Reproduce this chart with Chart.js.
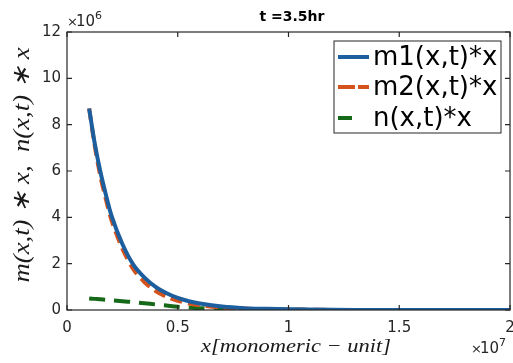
<!DOCTYPE html>
<html>
<head>
<meta charset="utf-8">
<script src="https://cdn.jsdelivr.net/npm/chart.js@4/dist/chart.umd.min.js"></script>
<style>
    html, body { margin: 0; padding: 0; background: #ffffff; }
    #wrap { width: 513px; height: 363px; }
</style>
</head>
<body>
<div id="wrap"><canvas id="chart" width="513" height="363"></canvas></div>
<script>
// x in units of 1e6, y in units of 1e6
const xGrid = [1, 1.25, 1.5, 1.75, 2, 2.5, 3, 3.5, 4, 4.5, 5, 5.5, 6, 7, 8, 9, 10, 12, 14, 16, 18, 20];
const m1Values = [8.7, 7.2, 6.0, 5.0, 4.1, 2.85, 1.95, 1.4, 1.0, 0.72, 0.52, 0.38, 0.28, 0.15, 0.08, 0.05, 0.03, 0.01, 0, 0, 0, 0];
const m2Values = [8.7, 7.1, 5.8, 4.8, 3.9, 2.65, 1.75, 1.2, 0.82, 0.57, 0.4, 0.28, 0.2, 0.1, 0.06, 0.03, 0.02, 0.005, 0, 0, 0, 0];
const nValues = [0.5, 0.48, 0.46, 0.44, 0.42, 0.38, 0.34, 0.29, 0.24, 0.19, 0.14, 0.11, 0.08, 0.05, 0.03, 0.02, 0.01, 0, 0, 0, 0, 0];

const seriesLabels = ['m1(x,t)*x', 'm2(x,t)*x', 'n(x,t)*x'];
const seriesColors = ['#1d5f9e', '#d4521c', '#17691a'];
const seriesDash = [[], [12, 6], [16, 9]];

const titleText = 't =3.5hr';
const xLabelText = 'x[monomeric \u2212 unit]';
const yLabelText = 'm(x,t) \u2217 x,  n(x,t) \u2217 x';

const AREA = { left: 67, right: 510, top: 32, bottom: 310 };

function toPoints(values) {
    return xGrid.map((x, i) => ({ x: x, y: values[i] }));
}

// draw text stretched horizontally to a target width
function fitText(ctx, text, cx, cy, targetWidth) {
    const w = ctx.measureText(text).width;
    ctx.save();
    ctx.translate(cx, cy);
    ctx.scale(targetWidth / w, 1);
    ctx.fillText(text, 0, 0);
    ctx.restore();
}

const decorations = {
    id: 'decorations',
    afterDraw(chart) {
        const ctx = chart.ctx;
        const a = chart.chartArea;
        const xs = chart.scales.x;
        const ys = chart.scales.y;
        ctx.save();

        // box
        ctx.strokeStyle = '#262626';
        ctx.lineWidth = 1.2;
        ctx.strokeRect(a.left, a.top, a.right - a.left, a.bottom - a.top);

        // inward ticks on all sides
        ctx.beginPath();
        xs.ticks.forEach(t => {
            const px = xs.getPixelForValue(t.value);
            ctx.moveTo(px, a.bottom); ctx.lineTo(px, a.bottom - 5);
            ctx.moveTo(px, a.top); ctx.lineTo(px, a.top + 5);
        });
        ys.ticks.forEach(t => {
            const py = ys.getPixelForValue(t.value);
            ctx.moveTo(a.left, py); ctx.lineTo(a.left + 5, py);
            ctx.moveTo(a.right, py); ctx.lineTo(a.right - 5, py);
        });
        ctx.stroke();

        // title
        ctx.fillStyle = '#000000';
        ctx.font = 'bold 14px "DejaVu Sans"';
        ctx.textAlign = 'center';
        ctx.textBaseline = 'middle';
        ctx.fillText(titleText, 292, 17);

        // exponents
        ctx.fillStyle = '#262626';
        ctx.textAlign = 'left';
        ctx.textBaseline = 'alphabetic';
        ctx.font = '13px "DejaVu Sans"';
        ctx.fillText('\u00d7', 67, 26);
        ctx.font = '15px "DejaVu Sans"';
        ctx.fillText('10', 76, 26);
        ctx.font = '11px "DejaVu Sans"';
        ctx.fillText('6', 95, 19);

        ctx.font = '13px "DejaVu Sans"';
        ctx.fillText('\u00d7', 471, 353);
        ctx.font = '15px "DejaVu Sans"';
        ctx.fillText('10', 480, 353);
        ctx.font = '11px "DejaVu Sans"';
        ctx.fillText('7', 499, 346);

        // axis labels
        ctx.fillStyle = '#1a1a1a';
        ctx.textAlign = 'center';
        ctx.textBaseline = 'middle';
        ctx.font = 'italic 19px "Liberation Serif"';
        fitText(ctx, xLabelText, 296, 347, 190);

        ctx.save();
        ctx.translate(23, 165);
        ctx.rotate(-Math.PI / 2);
        ctx.font = 'italic 24px "Liberation Serif"';
        fitText(ctx, yLabelText, 0, 0, 235);
        ctx.restore();

        // legend
        const lx = 334, ly = 41, lw = 167, lh = 92;
        ctx.fillStyle = '#ffffff';
        ctx.fillRect(lx, ly, lw, lh);
        ctx.strokeStyle = '#262626';
        ctx.lineWidth = 1;
        ctx.strokeRect(lx, ly, lw, lh);
        const rows = [57, 87, 118];
        chart.data.datasets.forEach((ds, i) => {
            ctx.beginPath();
            ctx.strokeStyle = ds.borderColor;
            ctx.lineWidth = 4;
            ctx.setLineDash(i === 1 ? [17, 3] : (i === 2 ? [14, 30] : []));
            ctx.moveTo(338, rows[i]);
            ctx.lineTo(369, rows[i]);
            ctx.stroke();
            ctx.setLineDash([]);
            ctx.fillStyle = '#000000';
            ctx.font = '26px "DejaVu Sans"';
            ctx.textAlign = 'left';
            ctx.textBaseline = 'middle';
            ctx.fillText(ds.label, 373, rows[i] + 1);
        });

        ctx.restore();
    }
};

const ctx = document.getElementById('chart').getContext('2d');

new Chart(ctx, {
    type: 'scatter',
    data: {
        datasets: [m1Values, m2Values, nValues].map((vals, i) => ({
            label: seriesLabels[i],
            data: toPoints(vals),
            showLine: true,
            borderColor: seriesColors[i],
            backgroundColor: seriesColors[i],
            borderWidth: 4,
            borderDash: seriesDash[i],
            pointRadius: 0,
            tension: 0.3,
            fill: false
        }))
    },
    options: {
        responsive: false,
        animation: false,
        devicePixelRatio: 1,
        layout: {
            padding: { left: 0, right: 513 - AREA.right, top: AREA.top, bottom: 0 }
        },
        plugins: {
            legend: { display: false },
            tooltip: { enabled: false },
            title: { display: false }
        },
        scales: {
            x: {
                type: 'linear',
                min: 0,
                max: 20,
                grid: { display: false, drawTicks: false },
                border: { display: false },
                ticks: {
                    stepSize: 5,
                    padding: 9,
                    color: '#262626',
                    font: { family: 'DejaVu Sans', size: 15 },
                    maxRotation: 0,
                    callback: v => String(v / 10)
                },
                afterFit(scale) {
                    scale.height = 363 - AREA.bottom;
                    scale.paddingLeft = 0;
                    scale.paddingRight = 0;
                }
            },
            y: {
                type: 'linear',
                min: 0,
                max: 12,
                grid: { display: false, drawTicks: false },
                border: { display: false },
                ticks: {
                    stepSize: 2,
                    padding: 6,
                    color: '#262626',
                    font: { family: 'DejaVu Sans', size: 15 },
                    callback: v => String(v)
                },
                afterFit(scale) {
                    scale.width = AREA.left;
                    scale.paddingTop = 0;
                    scale.paddingBottom = 0;
                }
            }
        }
    },
    plugins: [decorations]
});
</script>
</body>
</html>
